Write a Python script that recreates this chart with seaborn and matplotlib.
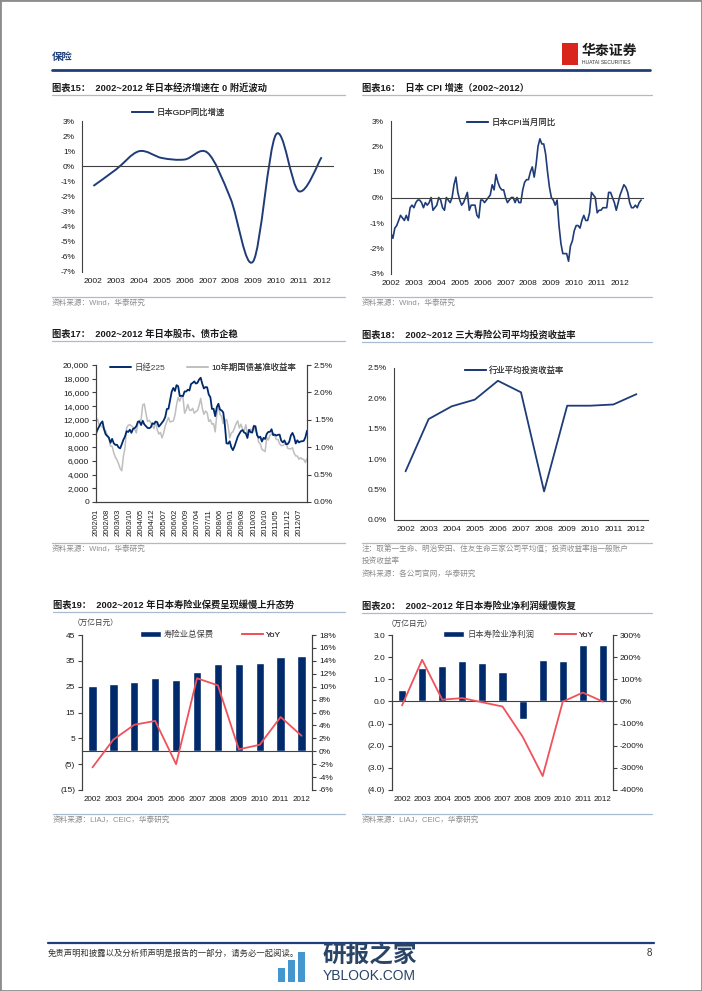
import numpy as np
import pandas as pd
import matplotlib
matplotlib.use('Agg')
import matplotlib.pyplot as plt
import seaborn as sns
from matplotlib.path import Path
from matplotlib.patches import PathPatch, Patch, Rectangle
from matplotlib.lines import Line2D
from matplotlib.ticker import FuncFormatter

# ---- data ----
years = ['2002', '2003', '2004', '2005', '2006', '2007', '2008', '2009', '2010', '2011', '2012']

# fig 15: GDP yoy (%)
gdp_yoy = [-1.3, -0.2, 1.0, 0.55, 0.45, 0.9, -2.1, -6.3, 2.1, -1.65, 0.6]

# fig 16: CPI yoy monthly 2002/01 - 2012/12 (%)
cpi_yoy = [
    -1.4, -1.6, -1.2, -1.1, -0.9, -0.7, -0.8, -0.9, -0.7, -0.9, -0.4, -0.3,
    -0.4, -0.2, -0.1, -0.1, -0.2, -0.4, -0.2, -0.3, -0.2, 0.0, -0.5, -0.4,
    -0.3, 0.0, -0.1, -0.4, -0.5, 0.0, -0.1, -0.2, 0.0, 0.5, 0.8, 0.2,
    -0.1, -0.3, -0.2, 0.0, 0.2, -0.5, -0.3, -0.3, -0.3, -0.7, -0.8, -0.1,
    -0.1, -0.2, -0.1, 0.0, 0.1, 0.5, 0.3, 0.9, 0.6, 0.4, 0.3, 0.3,
    0.0, -0.2, -0.1, 0.0, 0.0, -0.2, 0.0, -0.2, -0.2, 0.3, 0.6, 0.7,
    0.7, 1.0, 1.2, 0.8, 1.3, 2.0, 2.3, 2.1, 2.1, 1.7, 1.0, 0.4,
    0.0, -0.1, -0.3, -0.1, -1.1, -1.8, -2.2, -2.2, -2.2, -2.5, -1.9, -1.7,
    -1.3, -1.1, -1.1, -1.2, -0.9, -0.7, -0.9, -0.9, -0.6, 0.2, 0.1, 0.0,
    -0.6, -0.5, -0.5, -0.4, -0.4, -0.4, 0.2, 0.2, 0.0, -0.2, -0.5, -0.2,
    0.1, 0.3, 0.5, 0.4, 0.2, -0.2, -0.4, -0.4, -0.3, -0.4, -0.2, -0.1,
]

# fig 17: Nikkei 225 and 10y JGB yield, monthly 2002/01 - 2012/12
nikkei = [
    9998, 10588, 11025, 11493, 11764, 10622, 9878, 9619, 9383, 8640, 9216, 8579,
    8340, 8363, 7973, 7831, 8425, 9083, 9563, 10344, 10219, 10560, 10101, 10677,
    10784, 11042, 11715, 11762, 11236, 11859, 11326, 11082, 10824, 10771, 10899, 11489,
    11388, 11741, 11669, 11009, 11277, 11584, 11900, 12414, 13574, 13607, 14872, 16111,
    16650, 16205, 17060, 16906, 15467, 15505, 15457, 16141, 16128, 16399, 16274, 17226,
    17383, 17604, 17288, 17400, 17876, 18138, 17249, 16569, 16786, 16738, 15681, 15308,
    13592, 13603, 12526, 13850, 14339, 13481, 13377, 13073, 11260, 8577, 8512, 8860,
    7994, 7568, 8110, 8828, 9523, 9958, 10357, 10493, 10133, 10035, 9346, 10546,
    10198, 10126, 11090, 11057, 9769, 9383, 9537, 8824, 9369, 9202, 9937, 10229,
    10238, 10624, 9755, 9850, 9694, 9816, 9833, 8955, 8700, 8988, 8435, 8455,
    8803, 9723, 10084, 9521, 8543, 9007, 8695, 8840, 8870, 8928, 9446, 10395,
]
jgb10y = [
    1.47, 1.51, 1.40, 1.39, 1.37, 1.33, 1.30, 1.22, 1.18, 1.02, 1.02, 0.90,
    0.82, 0.77, 0.70, 0.61, 0.57, 0.83, 0.99, 1.35, 1.40, 1.41, 1.39, 1.36,
    1.33, 1.26, 1.43, 1.49, 1.50, 1.77, 1.79, 1.62, 1.47, 1.49, 1.45, 1.40,
    1.34, 1.47, 1.32, 1.24, 1.27, 1.17, 1.26, 1.39, 1.47, 1.54, 1.46, 1.47,
    1.48, 1.58, 1.77, 1.91, 1.84, 1.92, 1.91, 1.62, 1.68, 1.78, 1.68, 1.67,
    1.71, 1.62, 1.65, 1.67, 1.76, 1.89, 1.71, 1.60, 1.66, 1.63, 1.47, 1.50,
    1.42, 1.43, 1.28, 1.60, 1.77, 1.60, 1.56, 1.43, 1.47, 1.51, 1.39, 1.17,
    1.26, 1.28, 1.35, 1.43, 1.48, 1.35, 1.42, 1.33, 1.30, 1.41, 1.25, 1.29,
    1.33, 1.30, 1.40, 1.29, 1.26, 1.09, 1.06, 0.96, 0.94, 0.92, 1.18, 1.13,
    1.22, 1.24, 1.25, 1.21, 1.14, 1.14, 1.06, 1.03, 1.03, 1.05, 1.08, 0.98,
    0.97, 0.97, 0.99, 0.89, 0.84, 0.84, 0.78, 0.81, 0.78, 0.78, 0.72, 0.79,
]
month_ticks = ['2002/01', '2002/08', '2003/03', '2003/10', '2004/05', '2004/12', '2005/07',
               '2006/02', '2006/09', '2007/04', '2007/11', '2008/06', '2009/01', '2009/08',
               '2010/03', '2010/10', '2011/05', '2011/12', '2012/07']

# fig 18: average investment yield of three life insurers (%)
invest_yield = [0.80, 1.66, 1.87, 1.98, 2.29, 2.10, 0.47, 1.88, 1.88, 1.90, 2.07]

# fig 19: total premium (tn yen) and yoy (%)
premium = [25.4, 25.9, 27.0, 28.3, 27.6, 30.8, 33.9, 33.9, 34.3, 36.3, 37.0]
premium_yoy = [-2.5, 1.8, 4.1, 4.7, -2.0, 11.3, 10.2, 0.3, 1.0, 5.3, 2.4]

# fig 20: net profit (tn yen) and yoy (%)
profit = [0.51, 1.49, 1.58, 1.81, 1.73, 1.33, -0.78, 1.85, 1.83, 2.56, 2.53]
profit_yoy = [-18, 188, 8, 15, -4, -23, -159, -337, -1, 40, -1]

# ---- style ----
sns.set_theme(style='white')
plt.rcParams['font.family'] = ['Liberation Sans', 'Noto Sans CJK SC']
plt.rcParams['axes.unicode_minus'] = False

NAVY = '#002A6C'
LINE = '#1F3C78'
RED = '#F0525C'
GREY = '#BFBFBF'
SPINE = '#404040'
TXT = '#1A1A1A'
SRC = '#8C8C8C'
RULE = '#A9BAD3'

W, H = 702, 991
fig = plt.figure(figsize=(W / 100, H / 100), dpi=100)


def rect(l, t, r, b):
    return [l / W, 1 - b / H, (r - l) / W, (b - t) / H]


def fx(x):
    return x / W


def fy(y):
    return 1 - y / H


def hline(x0, x1, y, color=RULE, lw=0.9):
    fig.add_artist(Line2D([fx(x0), fx(x1)], [fy(y), fy(y)], color=color, lw=lw))


def ftext(x, y, s, size=6, color=TXT, weight='normal', ha='left'):
    fig.text(fx(x), fy(y), s, fontsize=size, color=color, weight=weight, ha=ha, va='center')


def style_ax(ax):
    ax.set_facecolor('none')
    ax.grid(False)
    ax.set_xlabel('')
    ax.set_ylabel('')
    for s in ax.spines.values():
        s.set_color(SPINE)
        s.set_linewidth(0.8)
    ax.tick_params(colors=SPINE, labelcolor=TXT, labelsize=6, length=3, width=0.8,
                   direction='out', pad=2)


def legend_at(ax, handles, labels, x, y, hl=2.5):
    lg = ax.legend(handles, labels, loc='center left', bbox_to_anchor=(fx(x), fy(y)),
                   bbox_transform=fig.transFigure, frameon=False, fontsize=6,
                   handlelength=hl, handletextpad=0.4, borderpad=0, borderaxespad=0,
                   labelcolor='#404040')
    ax.add_artist(lg)


def cat_labels_bottom(ax, labels, positions, size=6):
    sec = ax.secondary_xaxis(0)
    sec.set_xticks(positions, labels=labels)
    sec.tick_params(length=0, labelsize=size, labelcolor=TXT, pad=4)
    for s in sec.spines.values():
        s.set_visible(False)


def block(x0, x1, ytitle, title, ysrc, src, rule_src=True):
    ftext(x0, ytitle, title, size=6.7, weight='bold')
    hline(x0, x1, ytitle + 7)
    if rule_src:
        hline(x0, x1, ysrc - 6)
    for k, line in enumerate(src):
        ftext(x0, ysrc + k * 12.5, line, size=5.5, color=SRC)


pct0 = FuncFormatter(lambda v, p: f'{v:.0f}%')
pct1 = FuncFormatter(lambda v, p: f'{v:.1f}%')
idx = np.arange(len(years))

# ---- page furniture ----
fig.add_artist(Rectangle((0, 0), 1, 1, transform=fig.transFigure, fill=False,
                         edgecolor='#8C8C8C', lw=2))
ftext(52, 57, '保险', size=7.5, color='#1F3E7A', weight='bold')
hline(52, 650, 70, color='#1F3E7A', lw=2)
fig.add_artist(Rectangle((fx(562), fy(65)), 16 / W, 22 / H, transform=fig.transFigure,
                         facecolor='#D9261C', edgecolor='none'))
ftext(582, 51, '华泰证券', size=10, color='#1A1A1A', weight='bold')
ftext(582, 62, 'HUATAI SECURITIES', size=3.6, color='#333333')
hline(48, 654, 943, color='#1F3E7A', lw=1.6)
ftext(48, 953, '免责声明和披露以及分析师声明是报告的一部分，请务必一起阅读。', size=6, color='#333333')
ftext(652, 953, '8', size=7, color='#333333', ha='right')
# watermark
for bx, bh in [(278, 14), (288, 22), (298, 30)]:
    fig.add_artist(Rectangle((fx(bx), fy(982)), 7 / W, bh / H, transform=fig.transFigure,
                             facecolor='#2E8BC9', edgecolor='none', alpha=0.9))
ftext(322, 955, '研报之家', size=17, color='#2A4466', weight='bold')
ftext(323, 976, 'YBLOOK.COM', size=10, color='#2A4466')

# ---- fig 15 ----
block(52, 345, 88, '图表15：  2002~2012 年日本经济增速在 0 附近波动', 303, ['资料来源：Wind，华泰研究'])
ax = fig.add_axes(rect(82, 121, 333, 272))
style_ax(ax)
pts = list(zip(idx.astype(float), gdp_yoy))
verts, codes = [pts[0]], [Path.MOVETO]
for i in range(len(pts) - 1):
    p0 = np.array(pts[max(i - 1, 0)])
    p1 = np.array(pts[i])
    p2 = np.array(pts[i + 1])
    p3 = np.array(pts[min(i + 2, len(pts) - 1)])
    verts += [tuple(p1 + (p2 - p0) / 6), tuple(p2 - (p3 - p1) / 6), tuple(p2)]
    codes += [Path.CURVE4] * 3
ax.add_patch(PathPatch(Path(verts, codes), fill=False, edgecolor=LINE, lw=1.4))
ax.set_xlim(-0.5, 10.5)
ax.set_ylim(-7, 3)
ax.set_yticks(range(-7, 4))
ax.yaxis.set_major_formatter(pct0)
ax.spines['top'].set_visible(False)
ax.spines['right'].set_visible(False)
ax.spines['bottom'].set_position(('data', 0))
ax.set_xticks(np.arange(-0.5, 11, 1))
ax.tick_params(axis='x', labelbottom=False)
cat_labels_bottom(ax, years, idx)
legend_at(ax, [Line2D([], [], color=LINE, lw=1.4)], ['日本GDP同比增速'], 132, 113)

# ---- fig 16 ----
block(362, 652, 88, '图表16：  日本 CPI 增速（2002~2012）', 303, ['资料来源：Wind，华泰研究'])
ax = fig.add_axes(rect(391, 121, 643, 274))
style_ax(ax)
m = np.arange(len(cpi_yoy))
sns.lineplot(x=m, y=cpi_yoy, ax=ax, color=LINE, lw=1.2)
ax.set_xlim(0, 132)
ax.set_ylim(-3, 3)
ax.set_yticks(range(-3, 4))
ax.yaxis.set_major_formatter(pct0)
ax.spines['top'].set_visible(False)
ax.spines['right'].set_visible(False)
ax.spines['bottom'].set_position(('data', 0))
ax.set_xticks(np.arange(0, 133, 12))
ax.tick_params(axis='x', labelbottom=False, length=2)
cat_labels_bottom(ax, years, np.arange(0, 121, 12))
legend_at(ax, [Line2D([], [], color=LINE, lw=1.4)], ['日本CPI当月同比'], 467, 123)

# ---- fig 17 ----
block(52, 345, 334, '图表17：  2002~2012 年日本股市、债市企稳', 549, ['资料来源：Wind，华泰研究'])
ax = fig.add_axes(rect(96, 365, 307, 502))
ax2 = ax.twinx()
style_ax(ax)
style_ax(ax2)
mm = np.arange(len(nikkei))
sns.lineplot(x=mm, y=jgb10y, ax=ax2, color=GREY, lw=1.1)
sns.lineplot(x=mm, y=nikkei, ax=ax, color=NAVY, lw=1.3)
ax.set_zorder(ax2.get_zorder() + 1)
ax.patch.set_visible(False)
ax.set_xlim(0, 131)
ax.set_ylim(0, 20000)
ax.set_yticks(range(0, 20001, 2000))
ax.yaxis.set_major_formatter(FuncFormatter(lambda v, p: f'{v:,.0f}'))
ax2.set_ylim(0, 2.5)
ax2.set_yticks(np.arange(0, 2.51, 0.5))
ax2.yaxis.set_major_formatter(pct1)
ax2.set_ylabel('')
for a in (ax, ax2):
    a.spines['top'].set_visible(False)
ax.set_xticks(np.arange(0, 131, 7), labels=month_ticks, rotation=90)
ax.tick_params(axis='x', labelsize=5.5)
legend_at(ax, [Line2D([], [], color=NAVY, lw=1.4)], ['日经225'], 110, 368)
legend_at(ax, [Line2D([], [], color=GREY, lw=1.2)], ['10年期国债基准收益率'], 187, 368)

# ---- fig 18 ----
block(362, 652, 335, '图表18：  2002~2012 三大寿险公司平均投资收益率', 549,
      ['注：取第一生命、明治安田、住友生命三家公司平均值；投资收益率指一般账户',
       '投资收益率', '资料来源：各公司官网，华泰研究'])
ax = fig.add_axes(rect(394, 368, 648, 520))
style_ax(ax)
sns.lineplot(x=idx, y=invest_yield, ax=ax, color=LINE, lw=1.3)
ax.set_xlim(-0.5, 10.5)
ax.set_ylim(0, 2.5)
ax.set_yticks(np.arange(0, 2.51, 0.5))
ax.yaxis.set_major_formatter(pct1)
ax.spines['top'].set_visible(False)
ax.spines['right'].set_visible(False)
ax.set_xticks(np.arange(-0.5, 11, 1), labels=[''] * 12)
ax.set_xticks(idx, labels=years, minor=True)
ax.tick_params(axis='x', which='minor', length=0, labelsize=6, labelcolor=TXT, pad=4)
legend_at(ax, [Line2D([], [], color=LINE, lw=1.4)], ['行业平均投资收益率'], 465, 371)

# ---- fig 19 ----
block(53, 345, 605, '图表19：  2002~2012 年日本寿险业保费呈现缓慢上升态势', 820, ['资料来源：LIAJ，CEIC，华泰研究'])
ftext(73, 623, '（万亿日元）', size=5.5, color='#404040')
ax = fig.add_axes(rect(82, 635, 312, 790))
ax2 = ax.twinx()
style_ax(ax)
style_ax(ax2)
sns.barplot(x=years, y=premium, ax=ax, color=NAVY, width=0.4, saturation=1)
sns.lineplot(x=idx, y=premium_yoy, ax=ax2, color=RED, lw=1.3)
ax.set_xlim(-0.5, 10.5)
ax.set_ylim(-15, 45)
ax.set_yticks(range(-15, 46, 10))
ax.yaxis.set_major_formatter(FuncFormatter(lambda v, p: f'({abs(v):.0f})' if v < 0 else f'{v:.0f}'))
ax2.set_ylim(-6, 18)
ax2.set_yticks(range(-6, 19, 2))
ax2.yaxis.set_major_formatter(pct0)
ax2.set_ylabel('')
for a in (ax, ax2):
    a.spines['top'].set_visible(False)
    a.spines['bottom'].set_visible(False)
ax.spines['bottom'].set_visible(True)
ax.spines['bottom'].set_position(('data', 0))
ax.set_xticks(idx, labels=[''] * 11)
ax.tick_params(axis='x', length=0)
cat_labels_bottom(ax, years, idx, size=5.8)
legend_at(ax, [Patch(facecolor=NAVY)], ['寿险业总保费'], 140, 635)
legend_at(ax, [Line2D([], [], color=RED, lw=1.4)], ['YoY'], 242, 635)

# ---- fig 20 ----
block(362, 652, 606, '图表20：  2002~2012 年日本寿险业净利润缓慢恢复', 820, ['资料来源：LIAJ，CEIC，华泰研究'])
ftext(387, 624, '（万亿日元）', size=5.5, color='#404040')
ax = fig.add_axes(rect(392, 635, 613, 790))
ax2 = ax.twinx()
style_ax(ax)
style_ax(ax2)
sns.barplot(x=years, y=profit, ax=ax, color=NAVY, width=0.4, saturation=1)
sns.lineplot(x=idx, y=profit_yoy, ax=ax2, color=RED, lw=1.3)
ax.set_xlim(-0.5, 10.5)
ax.set_ylim(-4, 3)
ax.set_yticks(range(-4, 4))
ax.yaxis.set_major_formatter(FuncFormatter(lambda v, p: f'({abs(v):.1f})' if v < 0 else f'{v:.1f}'))
ax2.set_ylim(-400, 300)
ax2.set_yticks(range(-400, 301, 100))
ax2.yaxis.set_major_formatter(pct0)
ax2.set_ylabel('')
for a in (ax, ax2):
    a.spines['top'].set_visible(False)
    a.spines['bottom'].set_visible(False)
ax.spines['bottom'].set_visible(True)
ax.spines['bottom'].set_position(('data', 0))
ax.set_xticks(idx, labels=[''] * 11)
ax.tick_params(axis='x', length=0)
cat_labels_bottom(ax, years, idx, size=5.8)
legend_at(ax, [Patch(facecolor=NAVY)], ['日本寿险业净利润'], 443, 635)
legend_at(ax, [Line2D([], [], color=RED, lw=1.4)], ['YoY'], 555, 635)

fig.savefig('out.png', dpi=100)
